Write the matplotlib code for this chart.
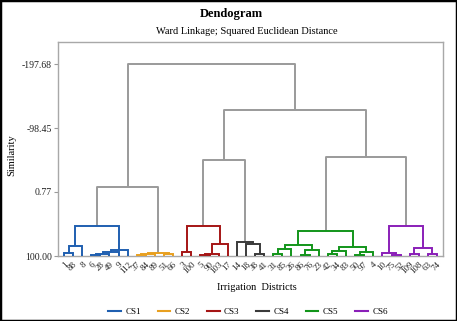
import matplotlib
matplotlib.use("Agg")
import matplotlib.pyplot as plt
from matplotlib.lines import Line2D
from matplotlib.patches import Rectangle

# ---------------- data ----------------
leaf_labels = ["1", "88", "8", "6", "28", "49", "9", "112",
               "37", "84", "89", "51", "66",
               "3", "100", "5", "90", "103", "17",
               "14", "18", "38", "41",
               "31", "85", "26", "86", "76", "23", "42", "34", "83", "50", "97", "4",
               "10", "75", "52", "109", "108", "63", "74"]

# merges: (left, right, similarity); ints are leaf indices, tuples are sub-clusters
cs1 = (((0, 1, 94.9), 2, 84.0),
       (((((3, 4, 98.4), 5, 97.4), 6, 93.3), 7, 90.7)), 53.5)
cs2 = ((((8, 9, 98.4), 10, 96.9), (11, 12, 97.4), 94.6))
cs3 = ((13, 14, 93.8), (((15, 16, 98.4), 17, 97.4), 18, 81.4), 53.5)
cs4 = (19, (20, (21, 22, 97.4), 81.9), 77.8)
cs5 = ((((23, 24, 96.9), 25, 89.1), ((26, 27, 98.4), 28, 90.7), 82.9),
       (((29, 30, 96.9), 31, 91.5), ((32, 33, 97.7), 34, 93.8), 86.0), 61.2)
cs6 = ((35, (36, 37, 97.7), 95.3), ((38, 39, 96.9), (40, 41, 96.9), 87.6), 53.5)

cluster_names = ["CS1", "CS2", "CS3", "CS4", "CS5", "CS6"]
cluster_colors = ["#1f5fb0", "#e8a020", "#a51515", "#3a3a3a", "#12951a", "#8a1fb8"]
clusters = [cs1, cs2, cs3, cs4, cs5, cs6]

# upper (gray) merges between cluster indices
upper = ((0, 1, -7.0),
         ((2, 3, -48.8), (4, 5, -53.5), -126.4), -197.68)

y_ticks = [100.00, 0.77, -98.45, -197.68]
y_tick_labels = ["100.00", "0.77", "-98.45", "-197.68"]

# ---------------- drawing ----------------
W, H = 457, 321
fig = plt.figure(figsize=(W / 100, H / 100), dpi=100)
fig.patch.set_facecolor("white")
fig.add_artist(Rectangle((0, 0), 1, 1, transform=fig.transFigure, fill=False,
                         edgecolor="black", linewidth=2.5))

ax = fig.add_axes([58 / W, 1 - 256 / H, (443 - 58) / W, (256 - 42) / H])
BASE = 100.0
LW = 1.4


def draw(node, color):
    if isinstance(node, int):
        return float(node), BASE
    l, r, h = node
    xl, yl = draw(l, color)
    xr, yr = draw(r, color)
    ax.plot([xl, xl, xr, xr], [yl, h, h, yr], color=color, lw=LW,
            solid_capstyle="butt", solid_joinstyle="miter", zorder=3)
    return (xl + xr) / 2, h


tops = [draw(c, col) for c, col in zip(clusters, cluster_colors)]


def draw_upper(node):
    if isinstance(node, int):
        return tops[node]
    l, r, h = node
    xl, yl = draw_upper(l)
    xr, yr = draw_upper(r)
    ax.plot([xl, xl, xr, xr], [yl, h, h, yr], color="#9a9a9a", lw=LW,
            solid_capstyle="butt", zorder=2)
    return (xl + xr) / 2, h


draw_upper(upper)

n = len(leaf_labels)
ax.set_xlim(-0.66, n - 1 + 0.66)
ax.set_ylim(100.0, -231.8)
ax.set_yticks(y_ticks)
ax.set_yticklabels(y_tick_labels)
ax.set_xticks(range(n))
ax.set_xticklabels(leaf_labels, rotation=45, ha="right", rotation_mode="anchor")
serif = "Liberation Serif"
for lab in ax.get_yticklabels():
    lab.set_fontfamily(serif)
    lab.set_fontsize(7)
    lab.set_color("#222222")
for lab in ax.get_xticklabels():
    lab.set_fontfamily(serif)
    lab.set_fontsize(6.5)
    lab.set_color("#222222")
ax.tick_params(axis="y", length=3, width=0.8, color="#9a9a9a", pad=1.5)
ax.tick_params(axis="x", length=0, pad=3)
for s in ax.spines.values():
    s.set_color("#a8a8a8")
    s.set_linewidth(1.0)

fig.text(12 / W, 1 - 155 / H, "Similarity", rotation=90, ha="center", va="center",
         fontfamily=serif, fontsize=7.5)
fig.text(257 / W, 1 - 288 / H, "Irrigation  Districts", ha="center", va="center",
         fontfamily=serif, fontsize=7.5)
fig.text(231 / W, 1 - 13.5 / H, "Dendogram", ha="center", va="center",
         fontfamily=serif, fontsize=9, fontweight="bold")
fig.text(247 / W, 1 - 31 / H, "Ward Linkage; Squared Euclidean Distance", ha="center",
         va="center", fontfamily=serif, fontsize=7.5)

handles = [Line2D([0], [0], color=c, lw=1.5) for c in cluster_colors]
fig.legend(handles, cluster_names, loc="center", bbox_to_anchor=(248 / W, 1 - 311.5 / H),
           ncol=6, frameon=False, prop={"family": serif, "size": 6.5},
           handlelength=1.4, handletextpad=0.5, columnspacing=1.85,
           borderpad=0, borderaxespad=0)

fig.savefig("out.png", dpi=100)
